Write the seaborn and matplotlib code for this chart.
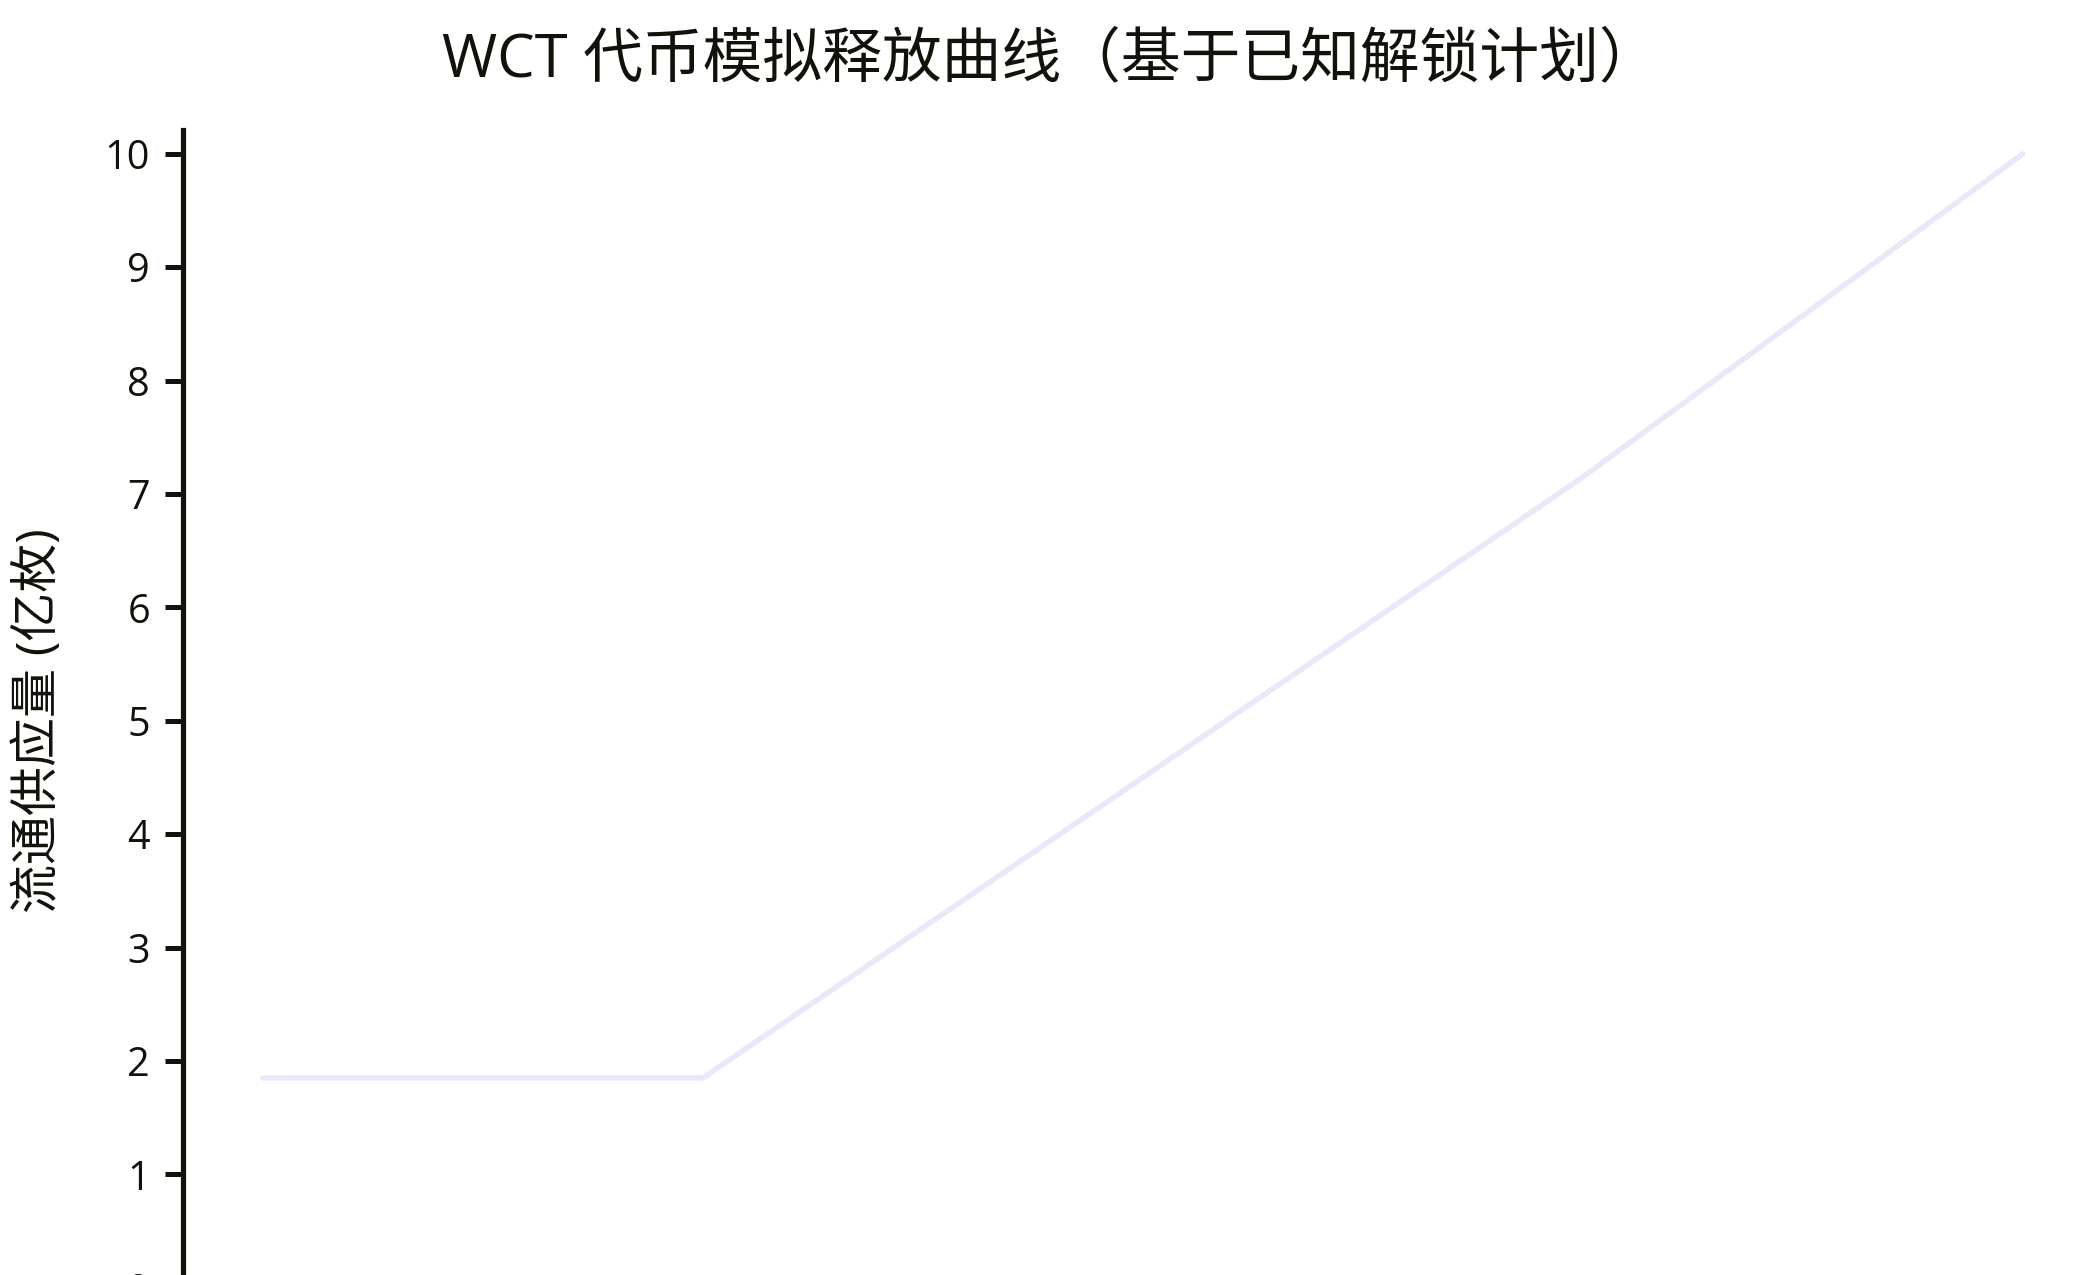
import matplotlib
matplotlib.use("Agg")
import matplotlib.pyplot as plt
import seaborn as sns
import pandas as pd

# -------------------------
# Data
# -------------------------
months = [0, 12, 36, 48]
supply = [1.85, 1.85, 7.15, 10.0]
yticks = [0, 1, 2, 3, 4, 5, 6, 7, 8, 9, 10]

title = "WCT 代币模拟释放曲线（基于已知解锁计划）"
ylabel = "流通供应量 (亿枚)"

df = pd.DataFrame({"month": months, "supply": supply})

sns.set_theme(style="ticks")
plt.rcParams["font.family"] = ["Open Sans", "Noto Sans CJK SC", "DejaVu Sans"]

ink = "#12120a"

fig = plt.figure(figsize=(14, 8.5), dpi=150)
ax = fig.add_axes([0.0873, -0.00996, 0.9127, 0.908])

sns.lineplot(data=df, x="month", y="supply", ax=ax,
             color="#E8E8FA", linewidth=2.6)

ax.set_xlim(-2.17, 50.1)
ax.set_ylim(0, 10.21)
ax.set_yticks(yticks)
ax.set_yticklabels([str(t) for t in yticks])

for side in ["top", "right", "bottom"]:
    ax.spines[side].set_visible(False)
ax.spines["left"].set_linewidth(2.5)
ax.spines["left"].set_color(ink)

ax.tick_params(axis="y", length=8.5, width=2.4, color=ink,
               labelcolor=ink, labelsize=19, pad=7.5)
ax.tick_params(axis="x", bottom=False, labelbottom=False)
ax.set_xlabel("")

ax.set_ylabel(ylabel, fontsize=23.5, color=ink)
ax.yaxis.set_label_coords(0.0305, 0.4345, transform=fig.transFigure)

fig.text(0.5, 0.953, title, ha="center", va="center",
         fontsize=28.7, color=ink)

fig.savefig("out.png", dpi=150)
plt.close(fig)
